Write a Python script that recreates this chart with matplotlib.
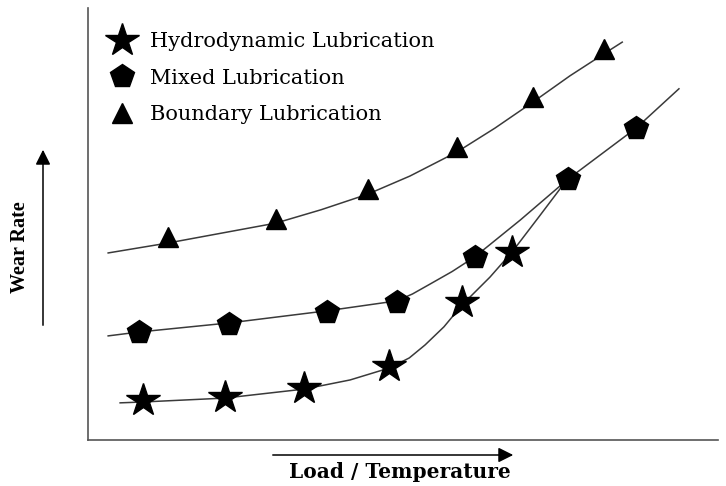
import matplotlib
matplotlib.use("Agg")
import matplotlib.pyplot as plt
from matplotlib.lines import Line2D

# ---- data (arbitrary units: load 0-10, wear rate 0-10) ----
hydro_x = [0.87, 2.17, 3.43, 4.78, 5.94, 6.73]
hydro_y = [0.93, 1.00, 1.20, 1.71, 3.19, 4.35]
hydro_curve_x = [0.51, 0.87, 2.17, 3.44, 4.16, 4.79, 5.10, 5.35, 5.65, 5.94, 6.38, 6.73, 7.17, 7.60]
hydro_curve_y = [0.86, 0.88, 0.97, 1.18, 1.39, 1.67, 1.90, 2.20, 2.62, 3.13, 3.77, 4.35, 5.19, 6.02]

mixed_x = [0.81, 2.24, 3.79, 4.90, 6.14, 7.62, 8.70]
mixed_y = [2.50, 2.69, 2.96, 3.19, 4.24, 6.04, 7.22]
mixed_curve_x = [0.32, 0.81, 2.24, 3.79, 4.90, 5.15, 5.43, 5.78, 6.14, 6.86, 7.62, 8.70, 9.38]
mixed_curve_y = [2.41, 2.50, 2.71, 2.99, 3.22, 3.38, 3.61, 3.90, 4.24, 5.09, 6.04, 7.22, 8.13]

bound_x = [1.27, 2.98, 4.44, 5.86, 7.06, 8.19]
bound_y = [4.70, 5.12, 5.81, 6.78, 7.94, 9.05]
bound_curve_x = [0.32, 1.27, 2.98, 3.70, 4.44, 5.11, 5.86, 6.46, 7.06, 7.65, 8.19, 8.48]
bound_curve_y = [4.33, 4.56, 5.02, 5.33, 5.69, 6.11, 6.67, 7.22, 7.82, 8.43, 8.94, 9.21]

labels = ["Hydrodynamic Lubrication", "Mixed Lubrication", "Boundary Lubrication"]
xlabel = "Load / Temperature"
ylabel = "Wear Rate"

W, H = 726, 486
fig = plt.figure(figsize=(W / 100, H / 100), dpi=100)
ax = fig.add_axes([88 / W, (H - 440) / H, (718 - 88) / W, (440 - 8) / H])
ax.set_xlim(0, 10)
ax.set_ylim(0, 10)
for s in ("top", "right"):
    ax.spines[s].set_visible(False)
for s in ("left", "bottom"):
    ax.spines[s].set_color("#555555")
    ax.spines[s].set_linewidth(1.2)
ax.set_xticks([])
ax.set_yticks([])

lc = "#3a3a3a"
ax.plot(hydro_curve_x, hydro_curve_y, color=lc, lw=1.1, zorder=2)
ax.plot(mixed_curve_x, mixed_curve_y, color=lc, lw=1.1, zorder=2)
ax.plot(bound_curve_x, bound_curve_y, color=lc, lw=1.1, zorder=2)

ms_star, ms_pent, ms_tri = 25, 18, 14
ax.plot(hydro_x, hydro_y, ls="none", marker="*", ms=ms_star, color="black", mec="black", zorder=3)
ax.plot(mixed_x, mixed_y, ls="none", marker="p", ms=ms_pent, color="black", mec="black", zorder=3)
ax.plot(bound_x, bound_y, ls="none", marker="^", ms=ms_tri, color="black", mec="black", zorder=3)

handles = [
    Line2D([], [], ls="none", marker="*", ms=ms_star, color="black"),
    Line2D([], [], ls="none", marker="p", ms=ms_pent, color="black"),
    Line2D([], [], ls="none", marker="^", ms=ms_tri, color="black"),
]
leg = ax.legend(handles, labels, loc="upper left",
                bbox_to_anchor=(108 / W, 1 - 32 / H), bbox_transform=fig.transFigure,
                frameon=False, borderpad=0, borderaxespad=0,
                handlelength=1.3, handletextpad=0.7, labelspacing=0.85,
                prop={"family": "DejaVu Serif", "size": 15})

# axis labels with arrows
fig.text(20 / W, 1 - 247 / H, ylabel, rotation=90, ha="center", va="center",
         family="Liberation Serif", weight="bold", size=14.5)
fig.text(400 / W, 1 - 472 / H, xlabel, ha="center", va="center",
         family="DejaVu Serif", weight="bold", size=14.5)

fig.add_artist(matplotlib.patches.FancyArrowPatch(
    (43 / W, 1 - 328 / H), (43 / W, 1 - 147 / H), transform=fig.transFigure,
    arrowstyle="-|>,head_length=6,head_width=3", mutation_scale=1.5, color="black", lw=1.1))
fig.add_artist(matplotlib.patches.FancyArrowPatch(
    (270 / W, 1 - 455 / H), (516 / W, 1 - 455 / H), transform=fig.transFigure,
    arrowstyle="-|>,head_length=6,head_width=3", mutation_scale=1.5, color="black", lw=1.1))

fig.savefig("out.png", dpi=100)
